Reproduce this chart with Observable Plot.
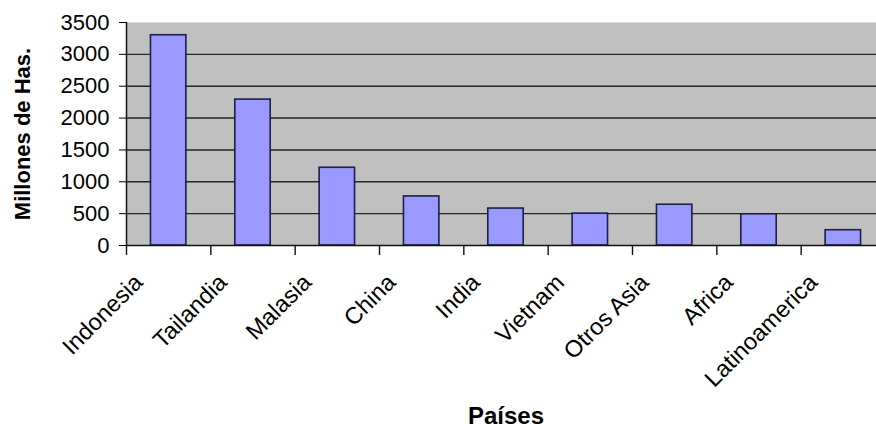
<!DOCTYPE html>
<html>
<head>
<meta charset="utf-8">
<script src="https://cdn.jsdelivr.net/npm/d3@7"></script>
<script src="https://cdn.jsdelivr.net/npm/@observablehq/plot@0.6"></script>
<style>
  html, body { margin: 0; padding: 0; background: #fff; overflow: hidden; }
  #chart svg { overflow: hidden; }
</style>
</head>
<body>
<div id="chart"></div>
<script>
// Superficie por país / región (millones de hectáreas)
const paises = ["Indonesia", "Tailandia", "Malasia", "China", "India", "Vietnam", "Otros Asia", "Africa", "Latinoamerica"];
const hectareas = [3300, 2290, 1220, 770, 580, 500, 640, 490, 240];
const yTicks = [0, 500, 1000, 1500, 2000, 2500, 3000, 3500];
const gridLines = [500, 1000, 1500, 2000, 2500, 3000];
const yLabel = "Millones de Has.";
const xLabel = "Países";

const rows = paises.map((name, i) => ({name, i, value: hectareas[i]}));
const bounds = d3.range(paises.length + 1);

const chart = Plot.plot({
  width: 876,
  height: 430,
  marginLeft: 126,
  marginRight: -9,
  marginTop: 22,
  marginBottom: 185,
  x: {domain: [0, paises.length], axis: null},
  y: {domain: [0, 3500], axis: null},
  style: {
    fontFamily: "'Liberation Sans', Arial, sans-serif",
    fontSize: "21px",
    background: "white",
    color: "black",
    overflow: "hidden"
  },
  marks: [
    // gray plot area
    Plot.frame({fill: "#c0c0c0", stroke: "none"}),
    // horizontal gridlines
    Plot.ruleY(gridLines, {stroke: "#262626", strokeWidth: 1.4}),
    // bars
    Plot.rectY(rows, {
      x1: d => d.i + 0.29,
      x2: d => d.i + 0.71,
      y: "value",
      fill: "#9999ff",
      stroke: "#1e1e46",
      strokeWidth: 1.6
    }),
    // axis lines
    Plot.ruleY([0], {stroke: "#111", strokeWidth: 1.5}),
    Plot.ruleX([0], {stroke: "#111", strokeWidth: 1.5}),
    // category separator ticks below the axis
    Plot.ruleX(bounds, {x: d => d, y1: 0, y2: 0, insetBottom: -10, stroke: "#111", strokeWidth: 1.4}),
    // y axis ticks and labels
    Plot.axisY({
      ticks: yTicks,
      tickSize: 7,
      tickPadding: 10,
      tickFormat: d => String(d),
      label: null,
      fontSize: 22
    }),
    // rotated category labels
    Plot.text(rows, {
      x: d => d.i + 0.5,
      frameAnchor: "bottom",
      text: "name",
      rotate: -45,
      textAnchor: "end",
      lineAnchor: "middle",
      dx: -30,
      dy: 33,
      fontSize: 23.5
    }),
    // axis titles
    Plot.text([yLabel], {
      frameAnchor: "left",
      rotate: -90,
      textAnchor: "middle",
      lineAnchor: "middle",
      dx: -103.5,
      fontWeight: "bold",
      fontSize: 22
    }),
    Plot.text([xLabel], {
      frameAnchor: "bottom",
      textAnchor: "middle",
      lineAnchor: "middle",
      dy: 171,
      fontWeight: "bold",
      fontSize: 24
    })
  ]
});

document.getElementById("chart").append(chart);
</script>
</body>
</html>
